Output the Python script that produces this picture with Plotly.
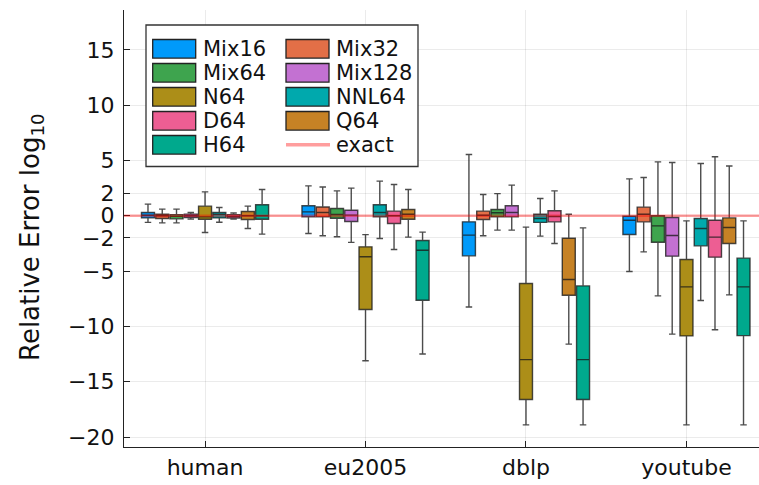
import plotly.graph_objects as go

# ---------------- data ----------------
CATEGORIES = ["human", "eu2005", "dblp", "youtube"]
SERIES = ["Mix16", "Mix32", "Mix64", "Mix128", "N64", "NNL64", "D64", "Q64", "H64"]
COLORS = ["#009AFA", "#E36F47", "#3EA44E", "#C371D2", "#AC8E18",
          "#00A9AD", "#ED5E93", "#C68225", "#00A98D"]
EXACT_NAME = "exact"
EXACT_VALUE = 0.0

# per series: values for [human, eu2005, dblp, youtube]
LOWER = {
    "Mix16": [-0.60, -1.60, -8.24, -5.04],
    "Mix32": [-0.64, -1.80, -1.81, -3.26],
    "Mix64": [-0.64, -1.90, -1.30, -7.24],
    "Mix128": [-0.30, -2.40, -1.30, -10.70],
    "N64": [-1.51, -13.10, -18.90, -18.90],
    "NNL64": [-0.58, -2.06, -1.84, -7.66],
    "D64": [-0.30, -3.05, -2.50, -10.30],
    "Q64": [-1.15, -1.93, -11.60, -7.15],
    "H64": [-1.66, -12.50, -18.90, -18.90],
}
Q1 = {
    "Mix16": [-0.19, -0.10, -3.62, -1.69],
    "Mix32": [-0.25, -0.10, -0.34, -0.55],
    "Mix64": [-0.28, -0.22, -0.10, -2.39],
    "Mix128": [-0.15, -0.52, -0.10, -3.65],
    "N64": [-0.31, -8.47, -16.60, -10.86],
    "NNL64": [-0.19, -0.10, -0.60, -2.72],
    "D64": [-0.20, -0.70, -0.55, -3.74],
    "Q64": [-0.34, -0.31, -7.18, -2.50],
    "H64": [-0.31, -7.63, -16.60, -10.83],
}
MEDIAN = {
    "Mix16": [0.05, 0.35, -1.75, -0.40],
    "Mix32": [0.00, 0.30, 0.05, 0.14],
    "Mix64": [-0.05, 0.12, 0.27, -0.91],
    "Mix128": [0.00, 0.06, 0.30, -1.78],
    "N64": [-0.10, -3.70, -13.00, -6.43],
    "NNL64": [0.13, 0.30, -0.25, -1.15],
    "D64": [-0.05, 0.00, -0.07, -1.93],
    "Q64": [0.00, 0.14, -5.76, -1.06],
    "H64": [0.00, -3.11, -13.00, -6.43],
}
Q3 = {
    "Mix16": [0.30, 0.90, -0.55, -0.04],
    "Mix32": [0.14, 0.80, 0.42, 0.78],
    "Mix64": [0.10, 0.66, 0.57, 0.00],
    "Mix128": [0.15, 0.50, 0.90, -0.16],
    "N64": [0.87, -2.81, -6.12, -3.95],
    "NNL64": [0.30, 1.00, 0.14, -0.25],
    "D64": [0.10, 0.42, 0.45, -0.40],
    "Q64": [0.39, 0.57, -2.03, -0.19],
    "H64": [0.99, -2.24, -6.34, -3.83],
}
UPPER = {
    "Mix16": [1.05, 2.70, 5.54, 3.34],
    "Mix32": [0.60, 2.60, 1.92, 3.46],
    "Mix64": [0.60, 2.25, 2.00, 4.87],
    "Mix128": [0.30, 2.50, 2.77, 4.82],
    "N64": [2.16, -1.70, -1.03, -0.46],
    "NNL64": [0.75, 3.13, 1.56, 4.73],
    "D64": [0.25, 2.83, 2.25, 5.33],
    "Q64": [0.87, 2.38, 0.14, 4.50],
    "H64": [2.38, -1.48, -1.09, -0.46],
}
Y_TICKS = [-20, -15, -10, -5, -2, 0, 2, 5, 10, 15]
Y_LABEL = "Relative Error log<sub>10</sub>"

# ---------------- layout constants ----------------
W, H = 759, 485
L, R, T, B = 124, 0, 10, 38
PW, PH = W - L - R, H - T - B
FONT = "DejaVu Sans"
EXACT_COLOR = "rgba(255,0,0,0.38)"


def px(x):
    return (x - L) / PW


def py(y):
    return (H - B - y) / PH


fig = go.Figure()
for name, color in zip(SERIES, COLORS):
    fig.add_trace(go.Box(
        x=CATEGORIES,
        lowerfence=LOWER[name], q1=Q1[name], median=MEDIAN[name],
        q3=Q3[name], upperfence=UPPER[name],
        name=name, fillcolor=color,
        line=dict(color="rgba(25,25,25,0.78)", width=1.4),
        whiskerwidth=0.5, boxpoints=False, showlegend=False,
        hoverinfo="skip",
    ))

shapes = [dict(type="line", xref="x domain", yref="y", x0=0, x1=1,
               y0=EXACT_VALUE, y1=EXACT_VALUE, layer="above",
               line=dict(color=EXACT_COLOR, width=2.5))]
annotations = []

# y axis label
annotations.append(dict(xref="paper", yref="paper", x=px(31), y=py(237),
                        xanchor="center", yanchor="middle", showarrow=False,
                        textangle=-90, text=Y_LABEL,
                        font=dict(family=FONT, size=26, color="#111111")))

# manual legend (two columns, row-major)
shapes.append(dict(type="rect", xref="paper", yref="paper",
                   x0=px(146), x1=px(418), y0=py(166.5), y1=py(25),
                   fillcolor="white", line=dict(color="#333333", width=1.3),
                   layer="above"))
entries = list(zip(SERIES, COLORS)) + [(EXACT_NAME, None)]
for k, (name, color) in enumerate(entries):
    row, col = divmod(k, 2)
    cy = 48.8 + 24.0 * row
    sx0 = 152.7 if col == 0 else 286.0
    tx = 200.5 if col == 0 else 334.0
    if color is None:
        shapes.append(dict(type="line", xref="paper", yref="paper",
                           x0=px(sx0), x1=px(sx0 + 44), y0=py(cy), y1=py(cy),
                           line=dict(color=EXACT_COLOR, width=3.5), layer="above"))
    else:
        shapes.append(dict(type="rect", xref="paper", yref="paper",
                           x0=px(sx0), x1=px(sx0 + 43), y0=py(cy + 9.3), y1=py(cy - 9.3),
                           fillcolor=color, line=dict(color="#222222", width=1.3),
                           layer="above"))
    annotations.append(dict(xref="paper", yref="paper", x=px(tx), y=py(cy),
                            xanchor="left", yanchor="middle", showarrow=False,
                            text=name, font=dict(family=FONT, size=21, color="#111111")))

fig.update_layout(
    width=W, height=H,
    margin=dict(l=L, r=R, t=T, b=B, autoexpand=False),
    paper_bgcolor="white", plot_bgcolor="white",
    boxmode="group", boxgap=0.2, boxgroupgap=0.09,
    font=dict(family=FONT, size=22, color="#111111"),
    shapes=shapes, annotations=annotations,
    showlegend=False,
)
fig.update_xaxes(
    type="category", categoryorder="array", categoryarray=CATEGORIES,
    range=[-0.505, 3.452], showgrid=True, gridcolor="rgba(0,0,0,0.08)", gridwidth=1,
    showline=True, linecolor="#222222", linewidth=1.2,
    ticks="inside", ticklen=6, tickcolor="#222222",
    tickfont=dict(family=FONT, size=22), zeroline=False,
)
fig.update_yaxes(
    range=[-20.9, 18.6], tickmode="array", tickvals=Y_TICKS,
    showgrid=True, gridcolor="rgba(0,0,0,0.08)", gridwidth=1,
    showline=True, linecolor="#222222", linewidth=1.2,
    ticks="inside", ticklen=6, tickcolor="#222222", ticklabelstandoff=4,
    tickfont=dict(family=FONT, size=22), zeroline=False,
)

fig.write_html("out.html")
